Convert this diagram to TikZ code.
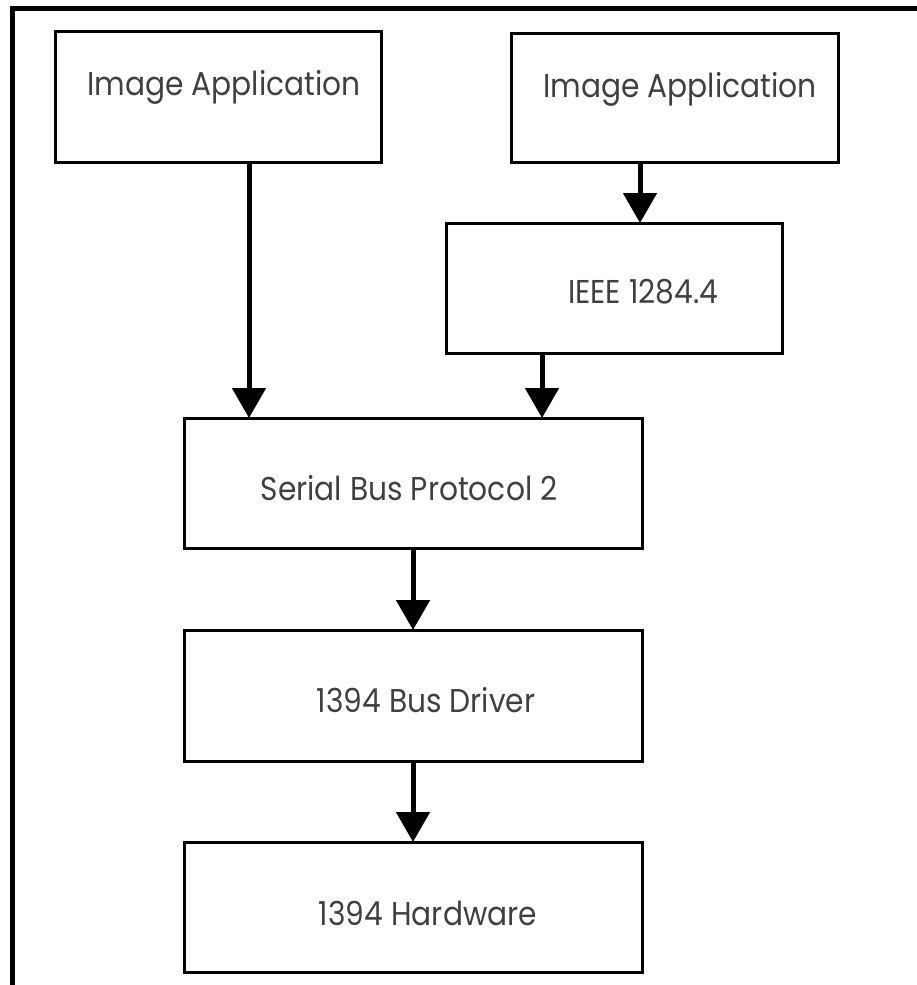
\documentclass[tikz,border=0pt]{standalone}
\usepackage{fontspec}
\setmainfont{Poppins}
\usetikzlibrary{arrows.meta,calc}

% captions are set slightly condensed
\newcommand{\layertext}[1]{\scalebox{0.9}[1]{#1}}

\tikzset{
  x=1pt, y=-1pt,
  layer/.style={draw=black, line width=3pt, rectangle, inner sep=0pt, outer sep=0pt},
  caption/.style={font=\fontsize{33}{36}\selectfont, text=black!75, inner sep=0pt},
  flow/.style={line width=5pt, -{Triangle[width=33pt,length=30pt]}},
  frame/.style={line width=5pt}
}

\begin{document}
\begin{tikzpicture}
  \useasboundingbox (0,0) rectangle (917,985);

  % open frame: top and left edges only
  \coordinate (frameTL) at (12.5,8.5);
  \coordinate (frameTR) at (917,8.5);
  \coordinate (frameBL) at (12.5,985);
  \draw[frame] (frameTR) -- (frameTL) -- (frameBL);

  % layer boxes
  \node[layer, minimum width=326pt, minimum height=131pt] (appL) at (218,96.5) {};
  \node[layer, minimum width=327pt, minimum height=129pt] (appR) at (674.5,98) {};
  \node[layer, minimum width=336pt, minimum height=130pt] (ieee) at (614,288) {};
  \node[layer, minimum width=458pt, minimum height=130pt] (sbp) at (413,483) {};
  \node[layer, minimum width=458pt, minimum height=131pt] (drv) at (413,695.5) {};
  \node[layer, minimum width=458pt, minimum height=130pt] (hw) at (413,907) {};

  % captions
  \node[caption] (tAppL) at (224,87) {\layertext{Image Application}};
  \node[caption] (tAppR) at (680,89) {\layertext{Image Application}};
  \node[caption] (tIeee) at (643,292) {\layertext{IEEE 1284.4}};
  \node[caption] (tSbp) at (409,488) {\layertext{Serial Bus Protocol 2}};
  \node[caption] (tDrv) at (426,700) {\layertext{1394 Bus Driver}};
  \node[caption] (tHw) at (428,913) {\layertext{1394 Hardware}};

  % connectors
  \draw[flow] (appL.south -| 249,0) -- (sbp.north -| 249,0);
  \draw[flow] (appR.south -| 640,0) -- (ieee.north -| 640,0);
  \draw[flow] (ieee.south -| 542,0) -- (sbp.north -| 542,0);
  \draw[flow] (sbp.south) -- (drv.north);
  \draw[flow] (drv.south) -- (hw.north);
\end{tikzpicture}
\end{document}
